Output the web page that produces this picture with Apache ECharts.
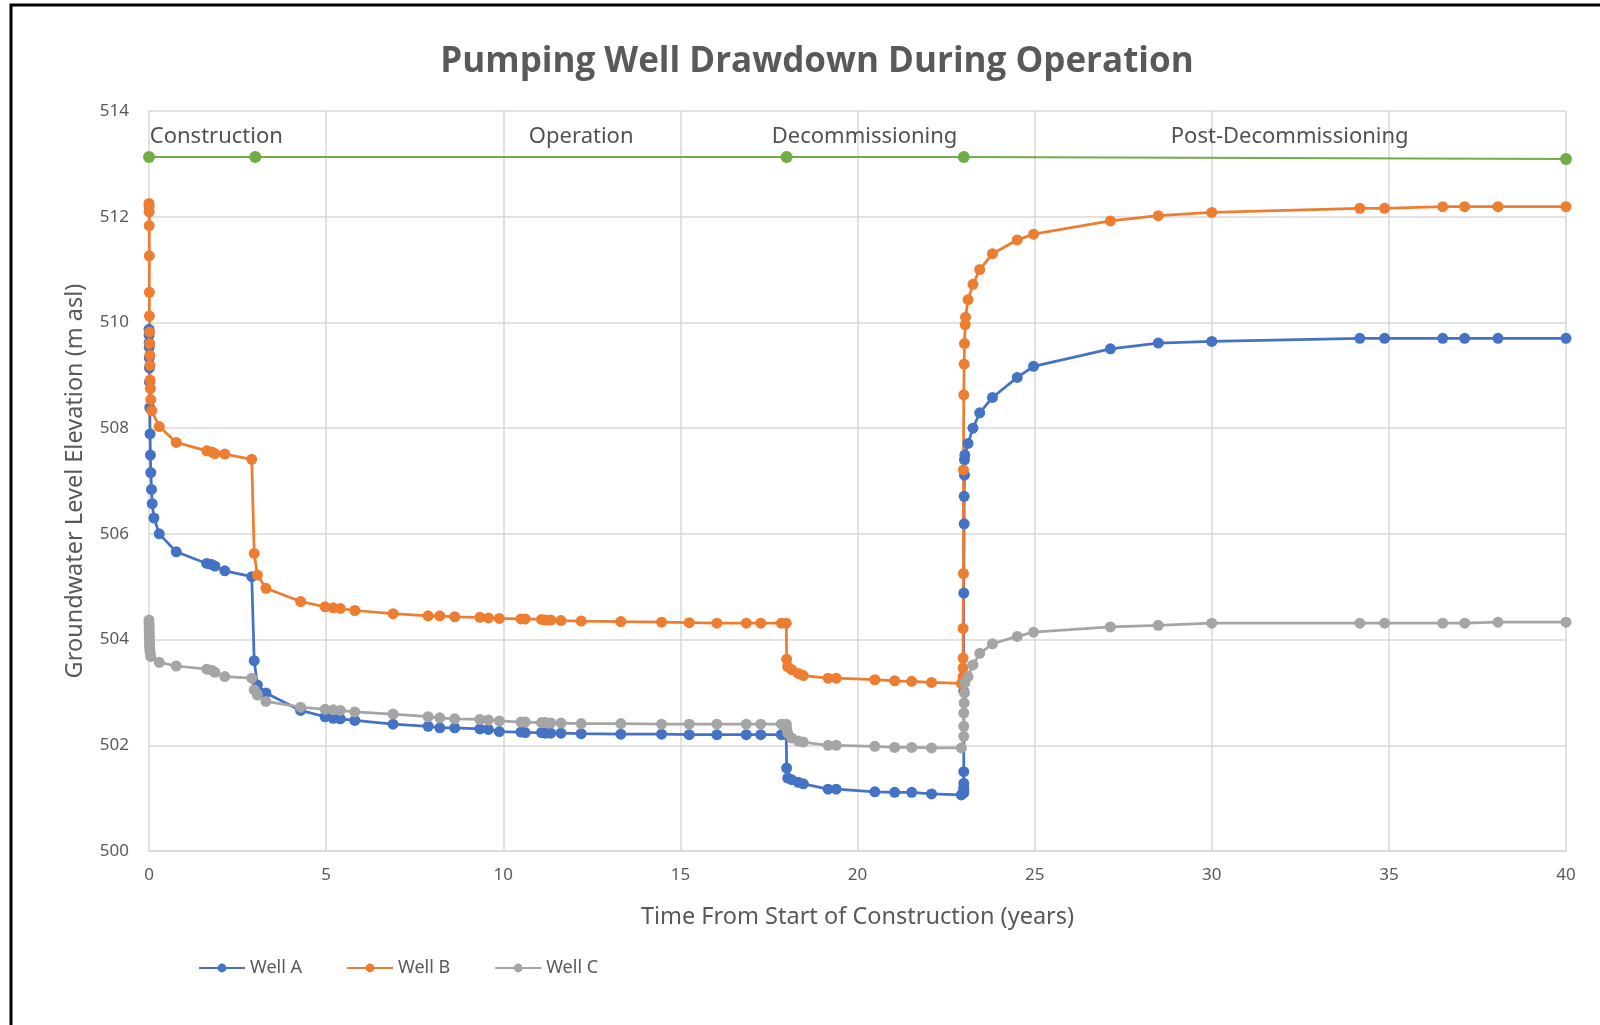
<!DOCTYPE html>
<html>
<head>
<meta charset="utf-8">
<title>Pumping Well Drawdown During Operation</title>
<script src="https://cdn.jsdelivr.net/npm/echarts@6/dist/echarts.min.js"></script>
<style>
  html, body { margin: 0; padding: 0; background: #fff; }
  #chart { width: 1600px; height: 1025px; }
</style>
</head>
<body>
<div id="chart"></div>
<script>
// Well A
const tA = [0, 0.002, 0.004, 0.006, 0.009, 0.012, 0.016, 0.022, 0.03, 0.04, 0.05, 0.07, 0.09, 0.14, 0.29, 0.77, 1.63, 1.77, 1.86, 2.14, 2.90,
  2.97, 3.06, 3.30, 4.28, 4.97, 5.20, 5.40, 5.81, 6.89, 7.88, 8.21, 8.63, 9.34, 9.58, 9.89, 10.50, 10.62, 11.08, 11.19, 11.34, 11.63, 12.20, 13.32, 14.47, 15.25, 16.03, 16.86, 17.27, 17.85, 17.99,
  18.00, 18.03, 18.14, 18.33, 18.47, 19.17, 19.40, 20.49, 21.05, 21.53, 22.09, 22.93,
  23.00, 23.00, 23.00, 23.00, 23.00, 23.00, 23.00, 23.01, 23.01, 23.02, 23.02, 23.03,
  23.12, 23.26, 23.45, 23.81, 24.51, 24.97, 27.14, 28.49, 30.00, 34.18, 34.88, 36.52, 37.14, 38.08, 40.00]
const wellA = [509.87, 509.76, 509.62, 509.53, 509.33, 509.14, 508.87, 508.39, 507.89, 507.49, 507.16, 506.84, 506.57, 506.30, 506.00, 505.66, 505.44, 505.42, 505.39, 505.30, 505.19,
  503.60, 503.14, 502.99, 502.66, 502.54, 502.51, 502.50, 502.47, 502.40, 502.36, 502.33, 502.33, 502.31, 502.30, 502.26, 502.25, 502.24, 502.24, 502.23, 502.23, 502.23, 502.22, 502.21, 502.21, 502.20, 502.20, 502.20, 502.20, 502.20, 502.20,
  501.57, 501.38, 501.35, 501.30, 501.27, 501.17, 501.17, 501.12, 501.11, 501.11, 501.08, 501.06,
  501.10, 501.15, 501.20, 501.28, 501.50, 503.02, 504.88, 506.19, 506.71, 507.11, 507.40, 507.49,
  507.71, 508.00, 508.29, 508.58, 508.96, 509.17, 509.50, 509.61, 509.64, 509.70, 509.70, 509.70, 509.70, 509.70, 509.70]

// Well B
const tB = [0, 0.002, 0.004, 0.006, 0.008, 0.01, 0.012, 0.015, 0.018, 0.022, 0.026, 0.03, 0.04, 0.05, 0.075, 0.29, 0.77, 1.63, 1.77, 1.86, 2.14, 2.90,
  2.97, 3.06, 3.30, 4.28, 4.97, 5.20, 5.40, 5.81, 6.89, 7.88, 8.21, 8.63, 9.34, 9.58, 9.89, 10.50, 10.62, 11.08, 11.19, 11.34, 11.63, 12.20, 13.32, 14.47, 15.25, 16.03, 16.86, 17.27, 17.85, 17.99,
  18.00, 18.03, 18.14, 18.33, 18.47, 19.17, 19.40, 20.49, 21.05, 21.53, 22.09, 22.93,
  22.98, 22.98, 22.98, 22.98, 22.99, 22.99, 23.00, 23.01, 23.02, 23.04, 23.05,
  23.12, 23.26, 23.45, 23.81, 24.51, 24.97, 27.14, 28.49, 30.00, 34.18, 34.88, 36.52, 37.14, 38.08, 40.00]
const wellB = [512.25, 512.19, 512.09, 511.83, 511.26, 510.57, 510.12, 509.82, 509.60, 509.38, 509.19, 508.91, 508.75, 508.54, 508.33, 508.03, 507.73, 507.57, 507.55, 507.52, 507.51, 507.41,
  505.63, 505.22, 504.97, 504.72, 504.62, 504.60, 504.59, 504.55, 504.49, 504.45, 504.45, 504.43, 504.42, 504.41, 504.40, 504.39, 504.39, 504.38, 504.37, 504.37, 504.36, 504.35, 504.34, 504.33, 504.32, 504.31, 504.31, 504.31, 504.31, 504.31,
  503.63, 503.49, 503.43, 503.36, 503.32, 503.27, 503.27, 503.24, 503.22, 503.21, 503.19, 503.17,
  503.30, 503.46, 503.65, 504.21, 505.25, 507.21, 508.63, 509.21, 509.60, 509.96, 510.10,
  510.43, 510.72, 511.00, 511.30, 511.56, 511.67, 511.92, 512.02, 512.08, 512.16, 512.16, 512.19, 512.19, 512.19, 512.19]

// Well C
const tC = [0, 0.002, 0.004, 0.006, 0.008, 0.01, 0.012, 0.015, 0.018, 0.022, 0.03, 0.05, 0.29, 0.77, 1.63, 1.77, 1.86, 2.14, 2.90,
  2.97, 3.06, 3.30, 4.28, 4.97, 5.20, 5.40, 5.81, 6.89, 7.88, 8.21, 8.63, 9.34, 9.58, 9.89, 10.50, 10.62, 11.08, 11.19, 11.34, 11.63, 12.20, 13.32, 14.47, 15.25, 16.03, 16.86, 17.27, 17.85, 17.99,
  18.00, 18.03, 18.14, 18.33, 18.47, 19.17, 19.40, 20.49, 21.05, 21.53, 22.09, 22.93,
  23.00, 23.00, 23.00, 23.01, 23.02, 23.03,
  23.12, 23.26, 23.45, 23.81, 24.51, 24.97, 27.14, 28.49, 30.00, 34.18, 34.88, 36.52, 37.14, 38.08, 40.00]
const wellC = [504.37, 504.30, 504.24, 504.18, 504.12, 504.06, 504.00, 503.94, 503.88, 503.82, 503.76, 503.68, 503.57, 503.50, 503.44, 503.42, 503.38, 503.30, 503.27,
  503.05, 502.95, 502.83, 502.72, 502.68, 502.67, 502.66, 502.63, 502.59, 502.54, 502.52, 502.50, 502.49, 502.48, 502.46, 502.44, 502.44, 502.43, 502.43, 502.42, 502.42, 502.41, 502.41, 502.40, 502.40, 502.40, 502.40, 502.40, 502.40, 502.40,
  502.32, 502.23, 502.14, 502.08, 502.06, 502.00, 502.00, 501.98, 501.96, 501.96, 501.95, 501.95,
  502.17, 502.36, 502.61, 502.80, 502.99, 503.18,
  503.30, 503.52, 503.74, 503.92, 504.06, 504.14, 504.24, 504.27, 504.31, 504.31, 504.31, 504.31, 504.31, 504.33, 504.33]

// project phases (green marker line + labels)
const phaseT = [0, 3, 18, 23, 40]
const phaseLevel = [513.13, 513.13, 513.13, 513.13, 513.09]
const phaseNames = ['Construction', 'Operation', 'Decommissioning', 'Post-Decommissioning']
const phaseLabelT = [1.9, 12.2, 20.2, 32.2]
const phaseLabelLevel = 513.52

const yTicks = [500, 502, 504, 506, 508, 510, 512, 514]
const xTicks = [0, 5, 10, 15, 20, 25, 30, 35, 40]

const zip = (t, v) => t.map((x, i) => [x, v[i]])
const font = 'Noto Sans'

const wellSeries = (name, t, v, color) => ({
  name: name,
  type: 'line',
  data: zip(t, v),
  symbol: 'circle',
  symbolSize: 11,
  lineStyle: { color: color, width: 2.75 },
  itemStyle: { color: color },
  z: 3
})

const chart = echarts.init(document.getElementById('chart'))
chart.setOption({
  animation: false,
  backgroundColor: '#fff',
  textStyle: { fontFamily: font },
  title: {
    text: 'Pumping Well Drawdown During Operation',
    left: 812,
    top: 40,
    textAlign: 'center',
    textStyle: { fontFamily: 'Open Sans', fontWeight: 'bold', fontSize: 35, color: '#595959' }
  },
  graphic: [{
    type: 'rect',
    shape: { x: 11, y: 5, width: 1700, height: 1100 },
    style: { fill: 'none', stroke: '#000', lineWidth: 3 },
    silent: true
  }],
  legend: {
    left: 193,
    top: 954,
    itemWidth: 46,
    itemHeight: 11,
    itemGap: 44,
    data: ['Well A', 'Well B', 'Well C'],
    textStyle: { fontFamily: font, fontSize: 18, color: '#595959' }
  },
  grid: { left: 149, right: 34, top: 111, bottom: 174 },
  xAxis: {
    type: 'value',
    min: xTicks[0],
    max: xTicks[xTicks.length - 1],
    interval: 5,
    name: 'Time From Start of Construction (years)',
    nameLocation: 'middle',
    nameGap: 54,
    nameTextStyle: { fontFamily: font, fontSize: 23.5, color: '#595959' },
    axisLine: { lineStyle: { color: '#d9d9d9', width: 1.5 } },
    axisTick: { show: false },
    axisLabel: { fontSize: 17, color: '#595959', margin: 16 },
    splitLine: { show: true, lineStyle: { color: '#d9d9d9', width: 1.5 } }
  },
  yAxis: {
    type: 'value',
    min: yTicks[0],
    max: yTicks[yTicks.length - 1],
    interval: 2,
    name: 'Groundwater Level Elevation (m asl)',
    nameLocation: 'middle',
    nameGap: 62,
    nameTextStyle: { fontFamily: font, fontSize: 23.5, color: '#595959' },
    axisLine: { show: false },
    axisTick: { show: false },
    axisLabel: { fontSize: 17, color: '#595959', margin: 20 },
    splitLine: { show: true, lineStyle: { color: '#d9d9d9', width: 1.5 } }
  },
  series: [
    wellSeries('Well A', tA, wellA, '#4472c4'),
    wellSeries('Well B', tB, wellB, '#ed7d31'),
    wellSeries('Well C', tC, wellC, '#a5a5a5'),
    {
      name: 'Phases',
      type: 'line',
      data: zip(phaseT, phaseLevel),
      symbol: 'circle',
      symbolSize: 12,
      lineStyle: { color: '#70ad47', width: 2 },
      itemStyle: { color: '#70ad47' },
      z: 2
    },
    {
      name: 'Phase labels',
      type: 'scatter',
      symbolSize: 0,
      data: phaseLabelT.map((t, i) => ({ value: [t, phaseLabelLevel], name: phaseNames[i] })),
      label: {
        show: true,
        position: 'inside',
        formatter: p => p.name,
        fontFamily: font,
        fontSize: 22,
        color: '#262626'
      },
      silent: true
    }
  ]
})
</script>
</body>
</html>
